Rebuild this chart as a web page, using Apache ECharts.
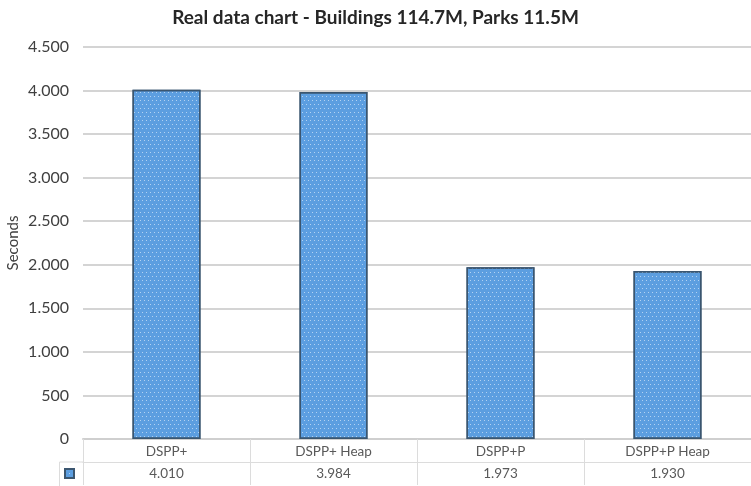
<!DOCTYPE html>
<html>
<head>
<meta charset="utf-8">
<script src="https://cdn.jsdelivr.net/npm/echarts@6/dist/echarts.min.js"></script>
<style>
  html, body { margin: 0; padding: 0; background: #fff; }
  #chart { width: 751px; height: 486px; }
</style>
</head>
<body>
<div id="chart"></div>
<script>
// Query times (ms) per method
const categories = ['DSPP+', 'DSPP+ Heap', 'DSPP+P', 'DSPP+P Heap'];
const seconds = [4010, 3984, 1973, 1930];
const yTicks = { min: 0, max: 4500, interval: 500 };

// 4500 -> "4.500"
function fmt(v) {
  return String(Math.round(v)).replace(/\B(?=(\d{3})+(?!\d))/g, '.');
}

const FONT = 'Lato, "Open Sans", sans-serif';
const GRID_LINE = '#d4d4d4';
const TABLE_LINE = '#dcdcdc';

const chart = echarts.init(document.getElementById('chart'), null, { renderer: 'canvas' });

chart.setOption({
  animation: false,
  backgroundColor: '#ffffff',
  textStyle: { fontFamily: FONT },
  title: {
    text: 'Real data chart - Buildings 114.7M, Parks 11.5M',
    left: 'center',
    top: 3,
    textStyle: { fontFamily: FONT, fontSize: 19, fontWeight: 'bold', color: '#262626' }
  },
  legend: {
    left: 59,
    top: 463,
    itemWidth: 9,
    itemHeight: 9,
    icon: 'rect',
    formatter: () => '',
    data: ['Seconds']
  },
  grid: { left: 83, right: 0, top: 47, bottom: 47, containLabel: false, outerBoundsMode: 'none' },
  xAxis: [
    {
      type: 'category',
      data: categories,
      position: 'bottom',
      axisLine: { show: true, lineStyle: { color: '#cfcfcf', width: 2 } },
      axisTick: { show: true, length: 46, lineStyle: { color: TABLE_LINE, width: 1 } },
      axisLabel: { margin: 6, fontSize: 13.5, color: '#595959', fontFamily: FONT }
    },
    {
      type: 'category',
      data: categories,
      position: 'bottom',
      offset: 23,
      axisLine: { show: true, lineStyle: { color: TABLE_LINE, width: 1 } },
      axisTick: { show: false },
      axisLabel: {
        margin: 5, fontSize: 13.5, color: '#595959', fontFamily: FONT,
        formatter: (v, i) => fmt(seconds[i])
      }
    }
  ],
  yAxis: {
    type: 'value',
    min: yTicks.min,
    max: yTicks.max,
    interval: yTicks.interval,
    name: 'Seconds',
    nameLocation: 'middle',
    nameGap: 62,
    nameMoveOverlap: false,
    nameTextStyle: { fontSize: 15, color: '#404040', fontFamily: FONT },
    axisLine: { show: false },
    axisTick: { show: false },
    axisLabel: { fontSize: 16, color: '#404040', margin: 14, formatter: fmt, fontFamily: FONT },
    splitLine: { lineStyle: { color: GRID_LINE, width: 2 } }
  },
  series: [{
    name: 'Seconds',
    type: 'bar',
    data: seconds,
    barWidth: 68,
    itemStyle: {
      color: '#5c9ee0',
      borderColor: '#3b5670',
      borderWidth: 1.5,
      decal: {
        symbol: 'rect',
        symbolSize: 1,
        color: 'rgba(215,232,250,0.7)',
        dashArrayX: [[1, 3], [0, 2, 1, 1]],
        dashArrayY: [1, 3]
      }
    }
  }],
  graphic: [
    // left border of the legend-key cell in the table
    { type: 'line', shape: { x1: 59.5, y1: 462, x2: 83, y2: 462 }, style: { stroke: TABLE_LINE, lineWidth: 1 } },
    { type: 'line', shape: { x1: 59.5, y1: 462, x2: 59.5, y2: 486 }, style: { stroke: TABLE_LINE, lineWidth: 1 } }
  ]
});
</script>
</body>
</html>
